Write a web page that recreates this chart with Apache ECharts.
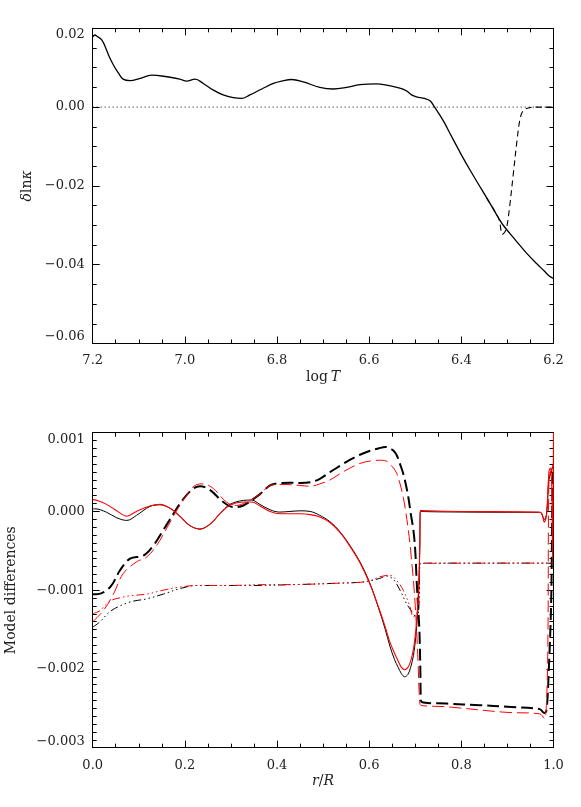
<!DOCTYPE html>
<html>
<head>
<meta charset="utf-8">
<script src="https://cdn.jsdelivr.net/npm/echarts@6/dist/echarts.min.js"></script>
<style>html,body{margin:0;padding:0;background:#fff;}#c{width:581px;height:807px;}</style>
</head>
<body>
<div id="c"></div>
<script>
// ---------- Top panel data (delta ln kappa vs log T) ----------
const topXTicks = ['6.2', '6.4', '6.6', '6.8', '7.0', '7.2'];
const topYTicks = ['\u22120.06', '\u22120.04', '\u22120.02', '0.00', '0.02'];
const solidLogT = [7.200, 7.195, 7.191, 7.180, 7.170, 7.164, 7.155, 7.144, 7.134, 7.119, 7.097, 7.072, 7.039, 7.011, 6.996, 6.978, 6.960, 6.938, 6.917, 6.895, 6.877, 6.859, 6.833, 6.808, 6.790, 6.768, 6.743, 6.707, 6.678, 6.649, 6.620, 6.584, 6.562, 6.540, 6.520, 6.508, 6.497, 6.480, 6.468, 6.458, 6.439, 6.421, 6.399, 6.378, 6.356, 6.334, 6.318, 6.307, 6.283, 6.259, 6.235, 6.220, 6.210, 6.200];
const solidDlnK = [0.0178, 0.0183, 0.0180, 0.0170, 0.0145, 0.0128, 0.0107, 0.0086, 0.0071, 0.0067, 0.0073, 0.0081, 0.0077, 0.0071, 0.0066, 0.0071, 0.0060, 0.0043, 0.0031, 0.0024, 0.0022, 0.0031, 0.0046, 0.0060, 0.0066, 0.0070, 0.0064, 0.0050, 0.0046, 0.0050, 0.0057, 0.0059, 0.0056, 0.0050, 0.0042, 0.0031, 0.0026, 0.0022, 0.0016, 0.0000, -0.0035, -0.0075, -0.0123, -0.0166, -0.0209, -0.0252, -0.0284, -0.0303, -0.0337, -0.0370, -0.0399, -0.0416, -0.0428, -0.0435];
const dashedLogT = [6.345, 6.330, 6.318, 6.311, 6.305, 6.301, 6.295, 6.287, 6.279, 6.273, 6.267, 6.257, 6.243, 6.200];
const dashedDlnK = [-0.0231, -0.0259, -0.0286, -0.0323, -0.0316, -0.0302, -0.0251, -0.0167, -0.0083, -0.0032, -0.0011, -0.0003, 0.0, 0.0];
const zeroLogT = [7.2, 6.2];
const zeroDlnK = [0, 0];

// ---------- Bottom panel data (model differences vs r/R) ----------
const botXTicks = ['0.0', '0.2', '0.4', '0.6', '0.8', '1.0'];
const botYTicks = ['\u22120.003', '\u22120.002', '\u22120.001', '0.000', '0.001'];

const blackSolidR = [0.0, 0.005, 0.03, 0.052, 0.074, 0.095, 0.124, 0.146, 0.168, 0.189, 0.211, 0.233, 0.255, 0.276, 0.298, 0.327, 0.345, 0.363, 0.385, 0.406, 0.428, 0.45, 0.472, 0.493, 0.515, 0.537, 0.558, 0.58, 0.6, 0.62, 0.635, 0.645, 0.655, 0.663, 0.67, 0.677, 0.684, 0.69, 0.696, 0.701, 0.705, 0.708, 0.71, 0.711, 0.75, 0.9, 0.97, 0.98, 0.985, 0.99, 0.995, 1.0];
const blackSolidV = [0.00003, 0.000034, -0.00001, -0.00008, -0.000114, -0.00005, 0.000063, 0.000085, 0.00004, -0.00006, -0.00018, -0.000224, -0.00016, -0.00003, 0.00009, 0.00014, 0.000145, 0.000089, 0.000021, -0.000008, 0.0, 0.000008, 0.0, -0.00005, -0.00013, -0.00026, -0.00043, -0.00064, -0.00089, -0.00122, -0.0015, -0.00171, -0.00188, -0.00198, -0.00206, -0.0021, -0.00207, -0.00198, -0.00183, -0.0016, -0.0013, -0.0009, -0.0004, 0.0, -0.000005, -0.00001, -0.00001, -0.0001, -0.00003, 0.0004, 0.0005, 0.0006];

const redSolidR = [0.0, 0.01, 0.03, 0.052, 0.074, 0.095, 0.124, 0.146, 0.168, 0.189, 0.211, 0.233, 0.255, 0.276, 0.298, 0.327, 0.345, 0.363, 0.385, 0.406, 0.428, 0.45, 0.472, 0.493, 0.515, 0.537, 0.558, 0.58, 0.6, 0.62, 0.635, 0.645, 0.655, 0.663, 0.67, 0.677, 0.684, 0.69, 0.696, 0.701, 0.705, 0.708, 0.71, 0.711, 0.8, 0.97, 0.975, 0.98, 0.985, 0.99, 0.993, 0.996, 0.998, 1.0];
const redSolidV = [0.00015, 0.00014, 0.00009, 0.00001, -0.00006, 0.0, 0.00007, 0.00009, 0.00004, -0.00006, -0.00018, -0.000224, -0.00016, -0.00003, 0.00008, 0.00012, 0.00012, 0.00007, 0.0, -0.00003, -0.00003, -0.00003, -0.00004, -0.00007, -0.00014, -0.00027, -0.00044, -0.00065, -0.0009, -0.00121, -0.00147, -0.00166, -0.0018, -0.0019, -0.00198, -0.00201, -0.00198, -0.0019, -0.00175, -0.00152, -0.00122, -0.00085, -0.0004, 0.00001, 0.0, -0.00001, -0.00003, -0.000135, -0.00003, 0.0005, 0.00055, 0.00035, -0.0006, 0.001];

const blackDashR = [0.0, 0.009, 0.038, 0.059, 0.081, 0.11, 0.132, 0.153, 0.175, 0.197, 0.218, 0.233, 0.255, 0.283, 0.305, 0.327, 0.349, 0.363, 0.385, 0.406, 0.428, 0.45, 0.472, 0.493, 0.515, 0.537, 0.558, 0.58, 0.602, 0.62, 0.635, 0.645, 0.653, 0.66, 0.667, 0.674, 0.68, 0.685, 0.69, 0.696, 0.7, 0.703, 0.706, 0.709, 0.711, 0.712, 0.714, 0.768, 0.84, 0.9, 0.97, 0.98, 0.985, 0.99, 0.995, 0.998, 1.0];
const blackDashV = [-0.00105, -0.00105, -0.00096, -0.00075, -0.0006, -0.00056, -0.00043, -0.00024, -0.00003, 0.00016, 0.00029, 0.00032, 0.00027, 0.00012, 0.000055, 0.000076, 0.00016, 0.00022, 0.00033, 0.00036, 0.000364, 0.00036, 0.00037, 0.000415, 0.0005, 0.00058, 0.000656, 0.00072, 0.00077, 0.0008, 0.00082, 0.0008, 0.00077, 0.00071, 0.0006, 0.00048, 0.00033, 0.00018, -0.00002, -0.00024, -0.0005, -0.00088, -0.0012, -0.00151, -0.002, -0.00236, -0.00242, -0.00244, -0.00246, -0.00248, -0.00251, -0.00256, -0.00252, -0.00198, -0.00113, 0.00035, 0.00056];

const redDashR = [0.0, 0.023, 0.045, 0.066, 0.095, 0.117, 0.139, 0.16, 0.182, 0.203, 0.225, 0.24, 0.262, 0.29, 0.312, 0.334, 0.363, 0.385, 0.406, 0.428, 0.45, 0.472, 0.493, 0.515, 0.537, 0.558, 0.58, 0.602, 0.623, 0.637, 0.645, 0.653, 0.66, 0.667, 0.674, 0.68, 0.685, 0.69, 0.696, 0.7, 0.703, 0.706, 0.709, 0.712, 0.768, 0.895, 0.97, 0.98, 0.985, 0.988, 0.99, 1.0];
const redDashV = [-0.0014, -0.00126, -0.00105, -0.00079, -0.00064, -0.00058, -0.00043, -0.00022, 0.00001, 0.0002, 0.00034, 0.00035, 0.00029, 0.00012, 0.000076, 0.00012, 0.00022, 0.00033, 0.000343, 0.00034, 0.00033, 0.00032, 0.00035, 0.0004, 0.00048, 0.00055, 0.00061, 0.00064, 0.00065, 0.00064, 0.0006, 0.00055, 0.00048, 0.00035, 0.00018, -0.00003, -0.00024, -0.0005, -0.00088, -0.0012, -0.00151, -0.0019, -0.00236, -0.00246, -0.00248, -0.00255, -0.00257, -0.00263, -0.0024, -0.00155, 0.0004, 0.0006];

const blackDotR = [0.0, 0.016, 0.04, 0.081, 0.117, 0.153, 0.189, 0.226, 0.298, 0.341, 0.45, 0.537, 0.58, 0.602, 0.623, 0.638, 0.652, 0.667, 0.681, 0.696, 0.703, 0.708, 0.711, 0.75, 0.98, 1.0];
const blackDotV = [-0.00147, -0.0014, -0.00126, -0.00115, -0.00111, -0.00105, -0.00098, -0.00094, -0.00094, -0.00094, -0.000927, -0.00091, -0.0009, -0.00088, -0.00085, -0.00082, -0.00086, -0.001, -0.00117, -0.0013, -0.00135, -0.0012, -0.00066, -0.000656, -0.000656, -0.00066];

const redDotR = [0.0, 0.016, 0.024, 0.04, 0.064, 0.081, 0.117, 0.153, 0.189, 0.226, 0.298, 0.363, 0.45, 0.537, 0.58, 0.602, 0.623, 0.645, 0.66, 0.674, 0.688, 0.696, 0.703, 0.708, 0.711, 1.0];
const redDotV = [-0.0013, -0.00126, -0.00121, -0.00113, -0.00109, -0.00107, -0.00105, -0.001, -0.00096, -0.00094, -0.00094, -0.00093, -0.000927, -0.00091, -0.0009, -0.00088, -0.00083, -0.00081, -0.00088, -0.001, -0.0012, -0.00134, -0.0013, -0.0011, -0.00066, -0.000656];

// ---------- helpers ----------
const zip = (xs, ys) => xs.map((x, i) => [x, ys[i]]);
const FONT = 'DejaVu Serif';
const INK = '#222';
function tickLabeler(labels, min, step) {
  return v => { const k = Math.round((v - min) / step); return labels[k] !== undefined ? labels[k] : ''; };
}
function axisBase(showLabels) {
  return {
    axisLine: { show: true, onZero: false, lineStyle: { color: '#000', width: 1 } },
    axisTick: { show: true, inside: true, length: 7, lineStyle: { color: '#000', width: 1 } },
    minorTick: { show: true, splitNumber: 4, length: 4, lineStyle: { color: '#000', width: 1 } },
    splitLine: { show: false },
    minorSplitLine: { show: false },
    axisLabel: { show: showLabels, color: INK, fontFamily: FONT, fontSize: 13, showMinLabel: true, showMaxLabel: true, hideOverlap: false }
  };
}
function mk(base, extra) {
  const o = JSON.parse(JSON.stringify(base));
  for (const k in extra) {
    if (typeof extra[k] === 'object' && extra[k] !== null && !Array.isArray(extra[k]) && o[k]) {
      o[k] = Object.assign({}, o[k], extra[k]);
    } else o[k] = extra[k];
  }
  return o;
}
const nameStyle = {
  color: INK, fontFamily: FONT, fontSize: 14,
  rich: {
    r: { fontFamily: FONT, fontSize: 14, color: INK },
    i: { fontFamily: FONT, fontSize: 14, fontStyle: 'italic', color: INK }
  }
};

const chart = echarts.init(document.getElementById('c'), null, { renderer: 'canvas' });

const xTop0 = mk(axisBase(true), { gridIndex: 0, type: 'value', position: 'bottom', min: 6.2, max: 7.2, interval: 0.2, inverse: true,
  name: '{r|log}{i|\u2009T}', nameLocation: 'middle', nameGap: 27, nameTextStyle: nameStyle });
xTop0.axisLabel.formatter = tickLabeler(topXTicks, 6.2, 0.2); xTop0.axisLabel.margin = 11;
const xTop1 = mk(axisBase(false), { gridIndex: 0, type: 'value', position: 'top', min: 6.2, max: 7.2, interval: 0.2, inverse: true });
const yTop0 = mk(axisBase(true), { gridIndex: 0, type: 'value', position: 'left', min: -0.06, max: 0.02, interval: 0.02,
  name: '{i|\u03b4}{r|ln}{i|\u03ba}', nameLocation: 'middle', nameGap: 58, nameTextStyle: nameStyle });
yTop0.axisLabel.formatter = tickLabeler(topYTicks, -0.06, 0.02); yTop0.axisLabel.margin = 8;
yTop0.axisLabel.verticalAlignMaxLabel = 'top'; yTop0.axisLabel.verticalAlignMinLabel = 'bottom';
const yTop1 = mk(axisBase(false), { gridIndex: 0, type: 'value', position: 'right', min: -0.06, max: 0.02, interval: 0.02 });

const xBot0 = mk(axisBase(true), { gridIndex: 1, type: 'value', position: 'bottom', min: 0, max: 1, interval: 0.2,
  name: '{i|r}{r|/}{i|R}', nameLocation: 'middle', nameGap: 27, nameTextStyle: nameStyle });
xBot0.axisLabel.formatter = tickLabeler(botXTicks, 0, 0.2); xBot0.axisLabel.margin = 11;
const xBot1 = mk(axisBase(false), { gridIndex: 1, type: 'value', position: 'top', min: 0, max: 1, interval: 0.2 });
const yBot0 = mk(axisBase(true), { gridIndex: 1, type: 'value', position: 'left', min: -0.003, max: 0.001, interval: 0.001,
  name: 'Model differences', nameLocation: 'middle', nameGap: 74,
  nameTextStyle: { color: INK, fontFamily: FONT, fontSize: 14 } });
yBot0.minorTick.splitNumber = 10;
yBot0.axisLabel.formatter = tickLabeler(botYTicks, -0.003, 0.001); yBot0.axisLabel.margin = 8;
yBot0.axisLabel.verticalAlignMaxLabel = 'top'; yBot0.axisLabel.verticalAlignMinLabel = 'bottom';
const yBot1 = mk(axisBase(false), { gridIndex: 1, type: 'value', position: 'right', min: -0.003, max: 0.001, interval: 0.001 });
yBot1.minorTick.splitNumber = 10;

function line(xi, yi, data, color, width, dash, smooth) {
  return {
    type: 'line', xAxisIndex: xi, yAxisIndex: yi, data: data, showSymbol: false, symbol: 'none',
    smooth: smooth, clip: true, silent: true,
    lineStyle: { color: color, width: width, type: dash, cap: 'butt', join: 'round' }
  };
}
const DASH_DOT3 = [8, 3, 1.5, 3, 1.5, 3, 1.5, 3];

chart.setOption({
  animation: false,
  backgroundColor: '#fff',
  grid: [
    { left: 92.7, right: 27.5, top: 28.3, height: 315.2, containLabel: false, outerBoundsMode: 'none' },
    { left: 92.7, right: 27.5, top: 432.7, height: 315, containLabel: false, outerBoundsMode: 'none' }
  ],
  xAxis: [xTop0, xTop1, xBot0, xBot1],
  yAxis: [yTop0, yTop1, yBot0, yBot1],
  series: [
    line(0, 0, zip(zeroLogT, zeroDlnK), '#000', 1, [1, 3], false),
    line(0, 0, zip(solidLogT, solidDlnK), '#000', 1.3, 'solid', 0.4),
    line(0, 0, zip(dashedLogT, dashedDlnK), '#000', 1.1, [6, 4], 0.35),

    line(2, 2, zip(blackDotR, blackDotV), '#000', 1, DASH_DOT3, 0.35),
    line(2, 2, zip(blackDashR, blackDashV), '#000', 2, [12, 5], 0.35),
    line(2, 2, zip(blackSolidR, blackSolidV), '#000', 1, 'solid', 0.35),
    line(2, 2, zip(redDotR, redDotV), '#ff0000', 1, DASH_DOT3, 0.35),
    line(2, 2, zip(redDashR, redDashV), '#ff0000', 1, [12, 5], 0.35),
    line(2, 2, zip(redSolidR, redSolidV), '#ff0000', 1.1, 'solid', 0.35)
  ]
});
</script>
</body>
</html>
